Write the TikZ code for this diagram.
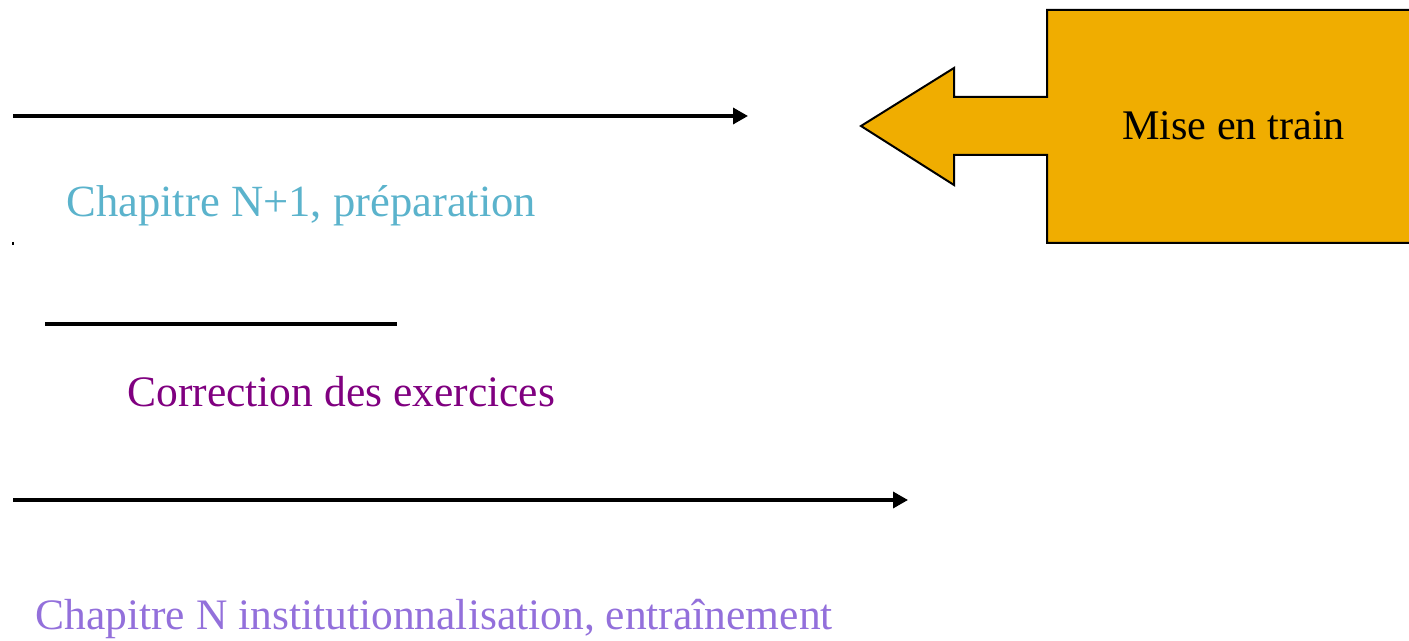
\documentclass[tikz,border=0pt]{standalone}
\usepackage{fontspec}
\setmainfont{Liberation Serif}
\usetikzlibrary{arrows.meta}
\definecolor{cblue}{RGB}{91,179,204}
\definecolor{cpurple}{RGB}{128,0,128}
\definecolor{clav}{RGB}{147,112,219}
\definecolor{corange}{RGB}{240,173,0}
\tikzset{
  conn/.style={line width=1.7pt,-{Triangle[length=7.5pt,width=8pt]}},
  plain/.style={line width=1.7pt},
  lbl/.style={anchor=base west,inner sep=0pt,font=\fontsize{21.75pt}{26pt}\selectfont},
  callout/.style={fill=corange},
  calloutline/.style={draw=black,line width=1pt,line join=miter},
}
\begin{document}
\begin{tikzpicture}[x=0.5pt,y=-0.5pt]
\useasboundingbox (0,0) rectangle (1409,641);
% callout
\fill[callout] (1412,10) -- (1047,10) -- (1047,97) -- (954,97) -- (954,68) -- (861,126) -- (954,185) -- (954,155) -- (1047,155) -- (1047,243) -- (1412,243) -- cycle;
\draw[calloutline] (1412,10) -- (1047,10) -- (1047,97) -- (954,97) -- (954,68) -- (861,126) -- (954,185) -- (954,155) -- (1047,155) -- (1047,243) -- (1412,243);
\node[anchor=base,inner sep=0pt,font=\fontsize{21.1pt}{25pt}\selectfont] (mise) at (1233.5,140) {Mise en train};
% arrows and lines
\coordinate (a1s) at (13,116);
\coordinate (a1e) at (748,116);
\draw[conn] (a1s) -- (a1e);
\coordinate (l2s) at (45,324);
\coordinate (l2e) at (397,324);
\draw[plain] (l2s) -- (l2e);
\coordinate (a3s) at (13,500);
\coordinate (a3e) at (908,500);
\draw[conn] (a3s) -- (a3e);
\coordinate (dots) at (13,242);
\coordinate (dote) at (13,245);
\draw[line width=0.6pt] (dots) -- (dote);
% labels
\node[lbl,text=cblue,font=\fontsize{22.3pt}{26pt}\selectfont] (prep) at (66,217) {Chapitre N+1, préparation};
\node[lbl,text=cpurple] (corr) at (127,407) {Correction des exercices};
\node[lbl,text=clav] (inst) at (35,630) {Chapitre N institutionnalisation, entraînement};
\end{tikzpicture}
\end{document}
